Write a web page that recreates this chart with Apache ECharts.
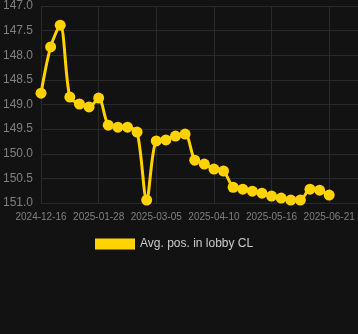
<!DOCTYPE html>
<html>
<head>
<meta charset="utf-8">
<script src="https://cdn.jsdelivr.net/npm/echarts@6/dist/echarts.min.js"></script>
<style>
html,body{margin:0;padding:0;background:#121212;}
#chart{width:358px;height:334px;}
</style>
</head>
<body>
<div id="chart"></div>
<script>
var categories = [
  '2024-12-16','2024-12-23','2024-12-30','2025-01-06','2025-01-13','2025-01-20',
  '2025-01-28','2025-02-03','2025-02-09','2025-02-15','2025-02-21','2025-02-27',
  '2025-03-05','2025-03-11','2025-03-17','2025-03-23','2025-03-29','2025-04-04',
  '2025-04-10','2025-04-16','2025-04-22','2025-04-28','2025-05-04','2025-05-10',
  '2025-05-16','2025-05-22','2025-05-28','2025-06-03','2025-06-09','2025-06-15',
  '2025-06-21','2025-06-27','2025-07-03','2025-07-09'
];
var avgPos = [
  148.77, 147.83, 147.39, 148.85, 148.99, 149.05,
  148.87, 149.42, 149.46, 149.46, 149.56, 150.94,
  149.74, 149.72, 149.64, 149.60, 150.13, 150.21,
  150.31, 150.35, 150.68, 150.72, 150.76, 150.80,
  150.86, 150.90, 150.94, 150.94, 150.72, 150.74,
  150.84, null, null, null
];
var seriesName = 'Avg. pos. in lobby CL';

var chart = echarts.init(document.getElementById('chart'), null, {renderer:'canvas'});
chart.setOption({
  backgroundColor: '#121212',
  animation: false,
  grid: {left: 40, right: 0, top: 6, bottom: 131},
  legend: {
    bottom: 79,
    left: 90,
    itemWidth: 40,
    itemHeight: 11,
    itemGap: 5,
    icon: 'rect',
    textStyle: {color: '#cccccc', fontSize: 12},
    data: [seriesName]
  },
  xAxis: {
    type: 'category',
    data: categories,
    boundaryGap: false,
    axisLine: {show: true, lineStyle: {color: '#2a2a2a'}},
    axisTick: {show: false},
    axisLabel: {interval: 5, color: '#808080', fontSize: 10, margin: 9},
    splitLine: {show: true, interval: 5, lineStyle: {color: '#2a2a2a'}}
  },
  yAxis: {
    type: 'value',
    inverse: true,
    min: 147,
    max: 151,
    interval: 0.5,
    axisLine: {show: false},
    axisTick: {show: false},
    axisLabel: {color: '#808080', fontSize: 12, formatter: function(v){return v.toFixed(1);}},
    splitLine: {show: true, lineStyle: {color: '#2a2a2a'}}
  },
  series: [{
    name: seriesName,
    type: 'line',
    data: avgPos,
    smooth: 0.3,
    symbol: 'circle',
    symbolSize: 11,
    showSymbol: true,
    showAllSymbol: true,
    connectNulls: false,
    lineStyle: {color: '#ffd200', width: 3},
    itemStyle: {color: '#ffd200'}
  }]
});
</script>
</body>
</html>
